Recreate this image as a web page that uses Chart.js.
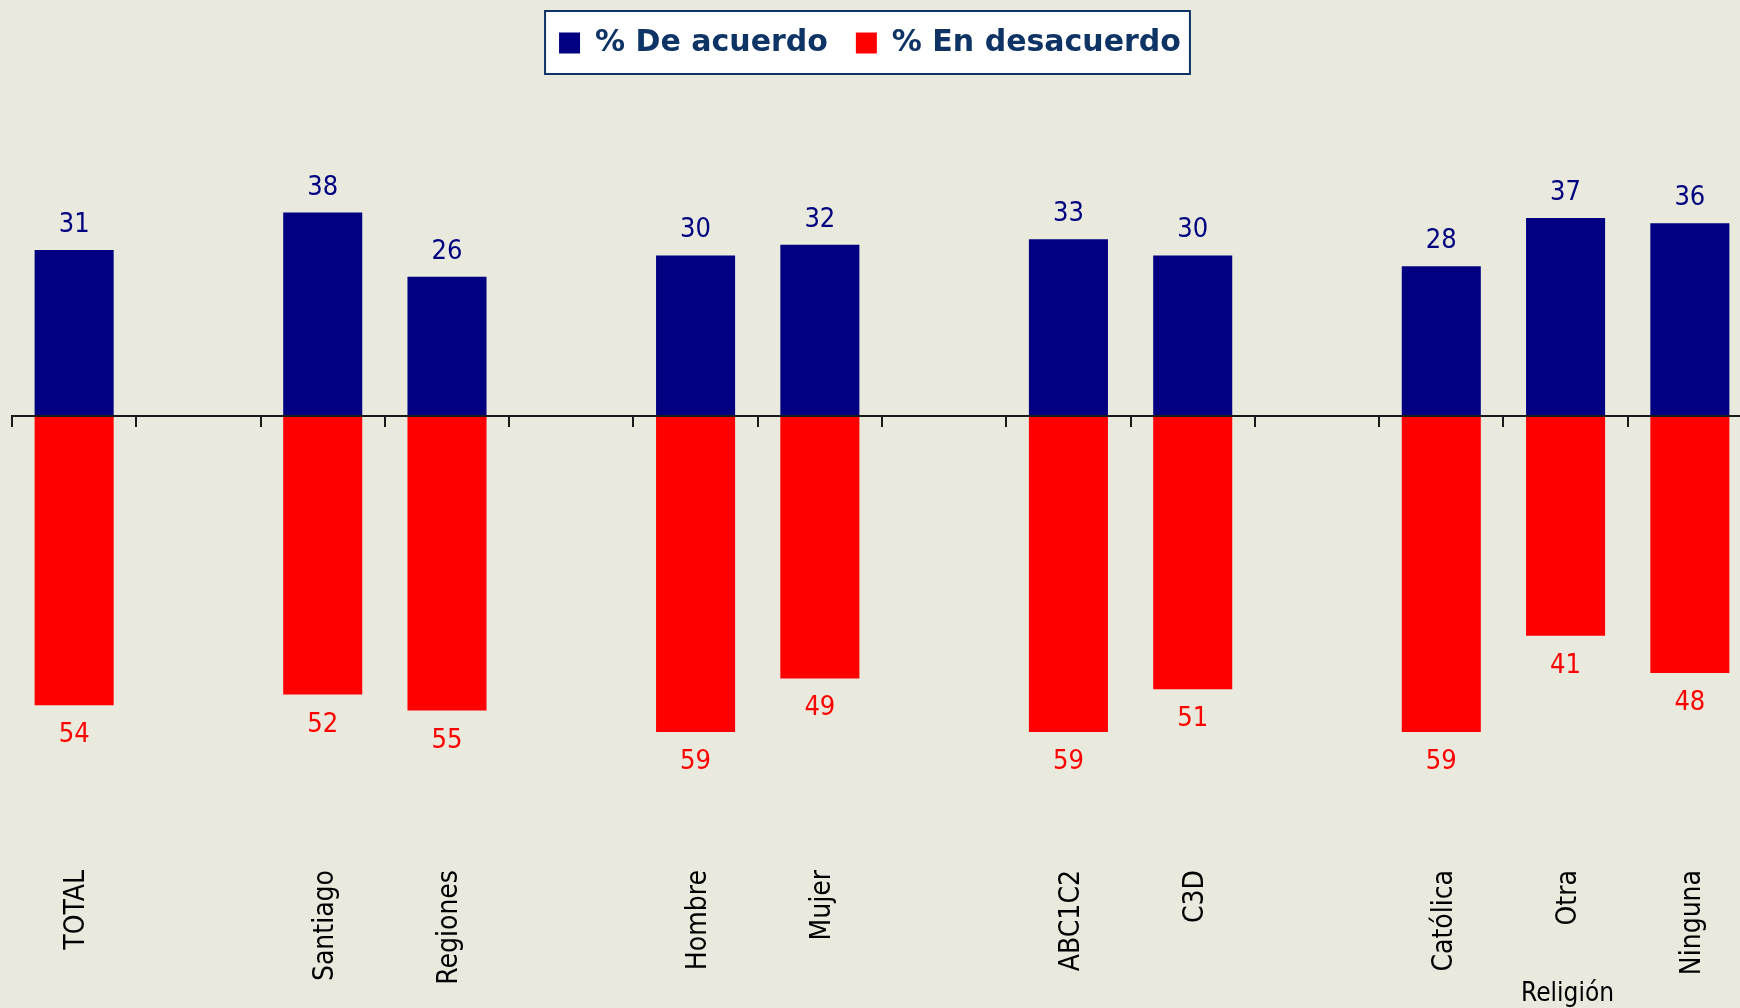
<!DOCTYPE html>
<html><head><meta charset="utf-8">
<script src="https://cdn.jsdelivr.net/npm/chart.js@4/dist/chart.umd.min.js"></script>
<style>
html,body{margin:0;padding:0;background:#E9E9DE;overflow:hidden;width:1740px;height:1008px}
canvas{display:block}
</style></head><body>
<canvas id="c" width="1752" height="1008"></canvas>
<script>
const categories = ['TOTAL', '', 'Santiago', 'Regiones', '', 'Hombre', 'Mujer', '', 'ABC1C2', 'C3D', '', 'Católica', 'Otra', 'Ninguna'];
const groupLabels = ['', '', '', '', '', '', '', '', '', '', '', '', 'Religión', ''];
const agreeValues = [31, null, 38, 26, null, 30, 32, null, 33, 30, null, 28, 37, 36];
const disagreeValues = [54, null, 52, 55, null, 59, 49, null, 59, 51, null, 59, 41, 48];
const seriesNames = ['% De acuerdo', '% En desacuerdo'];

const FONT = "'DejaVu Sans Condensed', 'DejaVu Sans', sans-serif";
const LEGEND_FONT = "'DejaVu Sans', sans-serif";
const NAVY = '#000080';
const RED = '#FF0000';
const LEGEND_TEXT = '#0E3466';

const legendFrame = {
  id: 'legendFrame',
  afterLayout(chart) {
    const l = chart.legend;
    l.left -= 12; l.right -= 12;
  },
  beforeDraw(chart) {
    const hb = chart.legend.legendHitBoxes;
    if (!hb || !hb.length) return;
    const first = hb[0], last = hb[hb.length - 1];
    const x1 = first.left - 14, x2 = last.left + last.width + 9;
    const y1 = first.top - 17, y2 = first.top + first.height + 16;
    const ctx = chart.ctx;
    ctx.save();
    ctx.fillStyle = '#FFFFFF';
    ctx.fillRect(x1, y1, x2 - x1, y2 - y1);
    ctx.strokeStyle = LEGEND_TEXT;
    ctx.lineWidth = 2;
    ctx.strokeRect(x1, y1, x2 - x1, y2 - y1);
    ctx.restore();
  }
};

const valueLabels = {
  id: 'valueLabels',
  afterDatasetsDraw(chart) {
    const ctx = chart.ctx;
    ctx.save();
    ctx.font = '27px ' + FONT;
    ctx.textAlign = 'center';
    ctx.textBaseline = 'alphabetic';
    chart.data.datasets.forEach((ds, di) => {
      const meta = chart.getDatasetMeta(di);
      meta.data.forEach((el, i) => {
        const v = ds.data[i];
        if (v == null) return;
        const txt = String(Math.abs(v));
        if (v >= 0) { ctx.fillStyle = NAVY; ctx.fillText(txt, el.x, el.y - 18); }
        else { ctx.fillStyle = RED; ctx.fillText(txt, el.x, el.y + 37); }
      });
    });
    ctx.restore();
  }
};

new Chart(document.getElementById('c'), {
  type: 'bar',
  data: {
    labels: categories,
    datasets: [
      { label: seriesNames[0], data: agreeValues, backgroundColor: NAVY, borderWidth: 0 },
      { label: seriesNames[1], data: disagreeValues.map(v => v == null ? null : -v), backgroundColor: RED, borderWidth: 0 }
    ]
  },
  options: {
    responsive: false,
    animation: false,
    layout: { padding: { left: 12, right: 0, top: 0, bottom: 0 } },
    datasets: { bar: { categoryPercentage: 1, barPercentage: 0.636 } },
    plugins: {
      tooltip: { enabled: false },
      legend: {
        position: 'top', align: 'center',
        labels: { boxWidth: 21, boxHeight: 21, padding: 28, color: LEGEND_TEXT,
                  font: { family: LEGEND_FONT, size: 30, weight: 'bold' } }
      }
    },
    scales: {
      x: {
        stacked: true, position: 'bottom', offset: true,
        grid: { display: false, drawTicks: false }, border: { display: false },
        ticks: { autoSkip: false, minRotation: 90, maxRotation: 90, padding: 10, labelOffset: 3,
                 color: '#000', font: { family: FONT, size: 28 } },
        afterFit: s => { s.height = 148; }
      },
      x2: {
        type: 'category', labels: groupLabels, position: { y: -105.1 }, offset: true,
        grid: { display: false, drawTicks: false }, border: { display: false },
        ticks: { autoSkip: false, minRotation: 0, maxRotation: 0, padding: 0, labelOffset: 2,
                 color: '#000', font: { family: FONT, size: 26 } },
        afterFit: s => { s.height = 0; }
      },
      x0: {
        type: 'category', position: { y: 0 }, offset: true,
        grid: { offset: true, drawOnChartArea: false, drawTicks: true, tickLength: 10,
                color: '#1a1a1a', lineWidth: 2, z: 1 },
        border: { display: true, color: '#1a1a1a', width: 2, z: 1 },
        ticks: { display: false },
        afterFit: s => { s.height = 0; }
      },
      y: { stacked: true, display: false, min: -82.9, max: 65.0 }
    }
  },
  plugins: [legendFrame, valueLabels]
});
</script>
</body></html>
